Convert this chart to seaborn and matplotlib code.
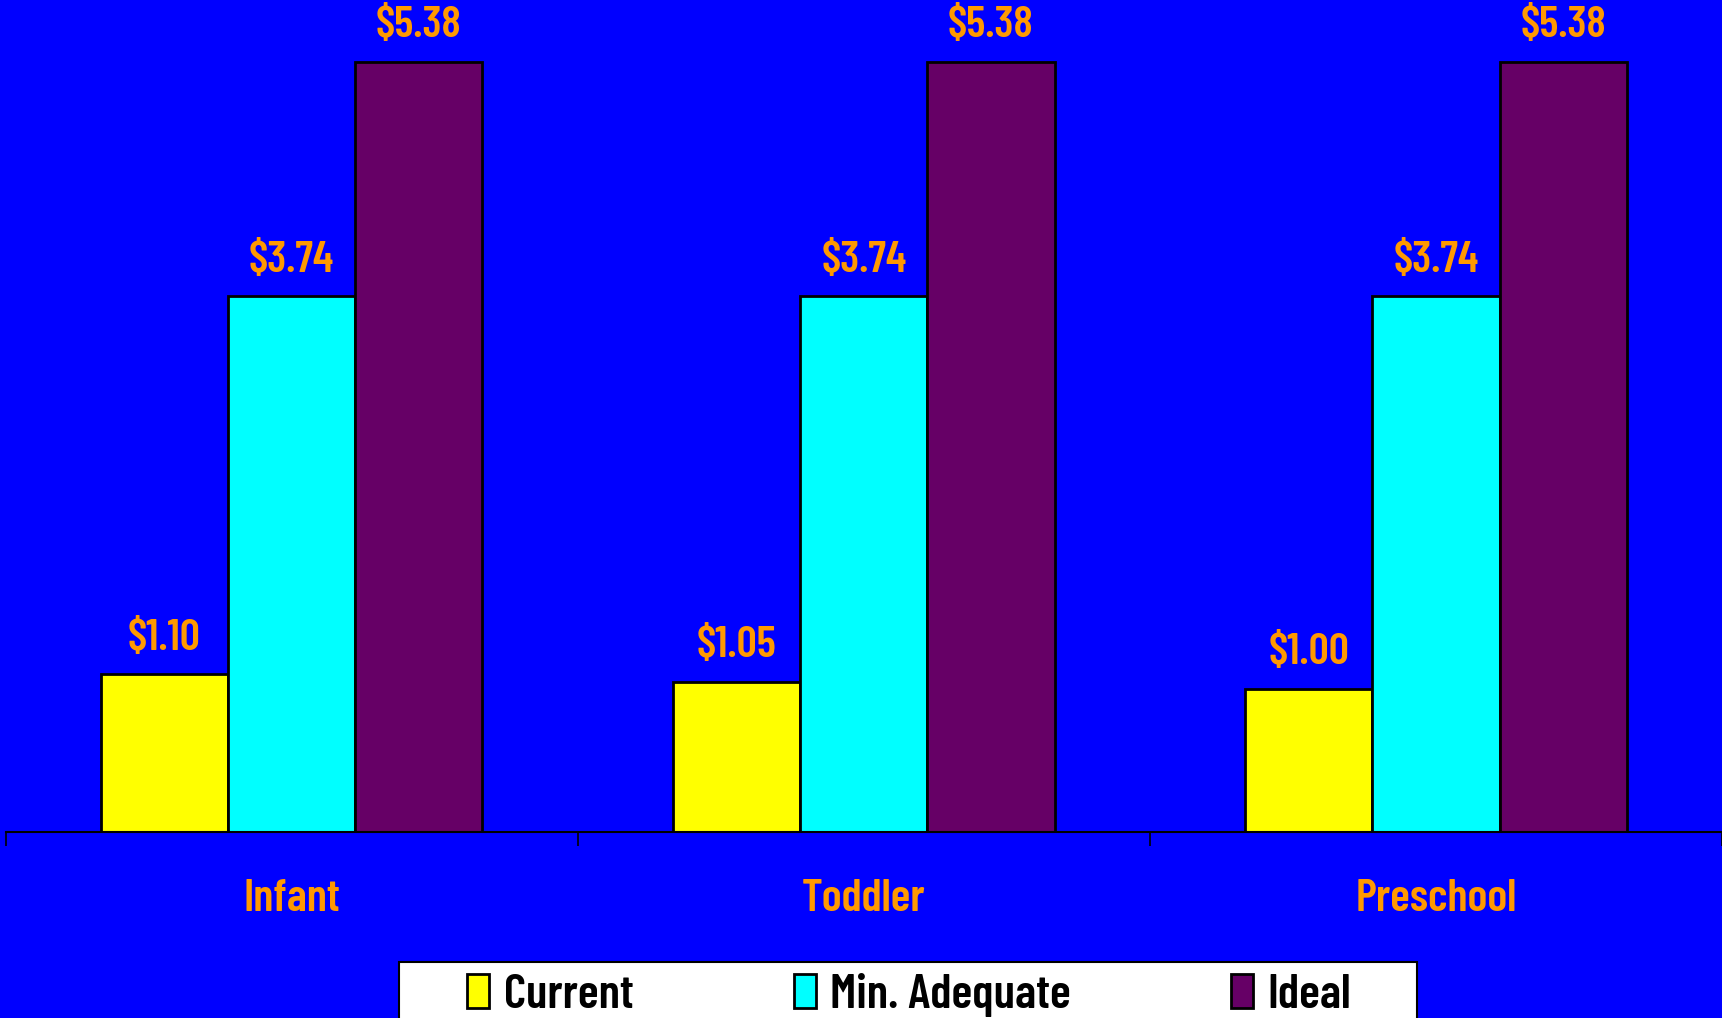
import matplotlib
matplotlib.use("Agg")
import matplotlib.pyplot as plt
import seaborn as sns
import pandas as pd
from matplotlib.patches import Rectangle
from matplotlib.ticker import FixedLocator

categories = ["Infant", "Toddler", "Preschool"]
series = ["Current", "Min. Adequate", "Ideal"]
current = [1.10, 1.05, 1.00]
min_adequate = [3.74, 3.74, 3.74]
ideal = [5.38, 5.38, 5.38]
colors = ["#FFFF00", "#00FFFF", "#660066"]

df = pd.DataFrame({
    "category": categories * 3,
    "series": [s for s in series for _ in categories],
    "value": current + min_adequate + ideal,
})

sns.set_theme(style="white")
plt.rcParams["font.family"] = ["Barlow Condensed", "Roboto Condensed", "Liberation Sans", "DejaVu Sans"]
plt.rcParams["font.weight"] = 600

BG = "#0000FF"
ORANGE = "#FF9900"

fig = plt.figure(figsize=(17.22, 10.18), dpi=100, facecolor=BG)
ax = fig.add_axes([0.0032, 0.1827, 0.9968, 0.8173])
ax.set_facecolor(BG)

sns.barplot(data=df, x="category", y="value", hue="series", order=categories,
            hue_order=series, palette=colors, width=0.667, edgecolor="black",
            linewidth=2, saturation=1, ax=ax, legend=False)

for cont in ax.containers:
    ax.bar_label(cont, labels=[f"${v:.2f}" for v in cont.datavalues],
                 padding=12, color=ORANGE, fontsize=32, fontweight=600)

ax.set_xlim(-0.5, 2.5)
ax.set_ylim(0, 5.81)
ax.set_xlabel("")
ax.set_ylabel("")
ax.set_yticks([])
for s in ["top", "right", "left"]:
    ax.spines[s].set_visible(False)
ax.spines["bottom"].set_color("black")
ax.spines["bottom"].set_linewidth(1.5)

# boundary ticks between groups, group names centred without ticks
ax.xaxis.set_major_locator(FixedLocator([-0.5, 0.5, 1.5, 2.5]))
ax.set_xticklabels([])
ax.xaxis.set_minor_locator(FixedLocator([0, 1, 2]))
ax.set_xticklabels(categories, minor=True)
ax.tick_params(axis="x", which="major", direction="out", length=10, width=1.2,
               color="black", bottom=True)
ax.tick_params(axis="x", which="minor", length=0, pad=34, labelsize=33,
               labelcolor=ORANGE)
for t in ax.get_xticklabels(minor=True):
    t.set_fontweight(600)

# white legend panel running off the bottom edge
fig.patches.append(Rectangle((0.2317, -0.02), 0.5912, 0.075, transform=fig.transFigure,
                             facecolor="white", edgecolor="black", linewidth=1.5,
                             zorder=0))

handles = [Rectangle((0, 0), 1, 1, facecolor=c, edgecolor="black", linewidth=2)
           for c in colors]
leg = fig.legend(handles, series, loc="upper center", bbox_to_anchor=(0.528, 0.044),
                 ncol=3, frameon=False, fontsize=35,
                 handlelength=0.45, handleheight=0.7, handletextpad=0.3,
                 columnspacing=3.3, borderpad=0.0, borderaxespad=0)
for t in leg.get_texts():
    t.set_color("black")
    t.set_fontweight(600)

fig.savefig("out.png", dpi=100, facecolor=BG)
